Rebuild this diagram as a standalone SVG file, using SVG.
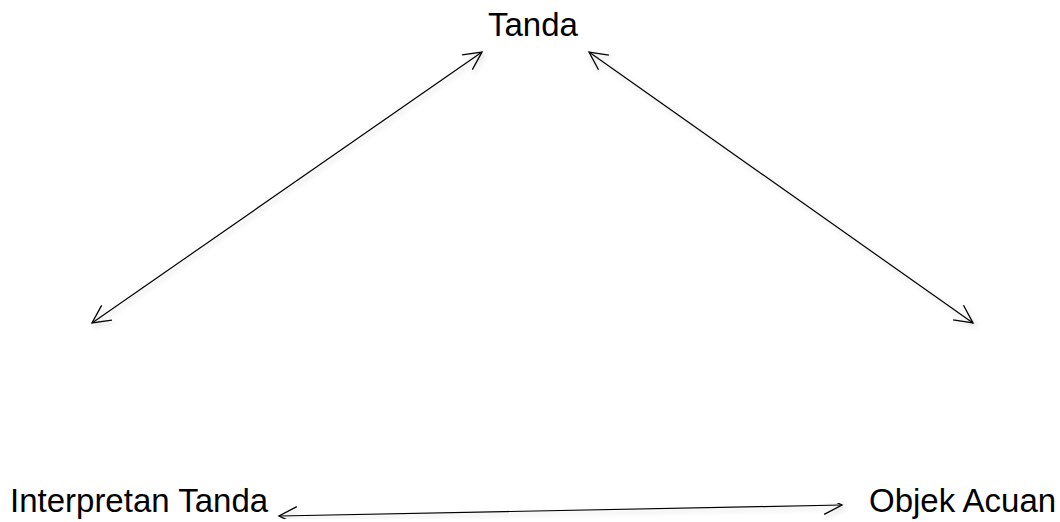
<svg xmlns="http://www.w3.org/2000/svg" width="1060" height="522" viewBox="0 0 1060 522">
  <style>
    .lbl { font-family: "Liberation Sans", Arial, sans-serif; font-size: 33px; fill: #000; }
    .conn { stroke: #000; stroke-width: 1.2; fill: none; marker-start: url(#arr); marker-end: url(#arr); filter: url(#shadow); }
  </style>
  <defs>
    <marker id="arr" viewBox="-22 -12 24 24" refX="0" refY="0" markerWidth="24" markerHeight="24" markerUnits="userSpaceOnUse" orient="auto-start-reverse">
      <path d="M -18 -9 L 0 0 L -18 9" fill="none" stroke="#000" stroke-width="1.3"/>
    </marker>
    <filter id="shadow" x="-10%" y="-10%" width="120%" height="130%">
      <feDropShadow dx="2" dy="3" stdDeviation="2.5" flood-color="#000" flood-opacity="0.18"/>
    </filter>
  </defs>
  <rect width="1060" height="522" fill="#fff"/>
  <g id="connectors">
    <line class="conn" x1="92" y1="323" x2="482" y2="52"/>
    <line class="conn" x1="589" y1="52" x2="973" y2="323"/>
    <line class="conn" x1="279" y1="516" x2="842" y2="505"/>
  </g>
  <g id="node-tanda"><text class="lbl" x="488" y="36">Tanda</text></g>
  <g id="node-interpretan"><text class="lbl" x="10" y="512">Interpretan Tanda</text></g>
  <g id="node-objek"><text class="lbl" x="869" y="512">Objek Acuan</text></g>
</svg>
